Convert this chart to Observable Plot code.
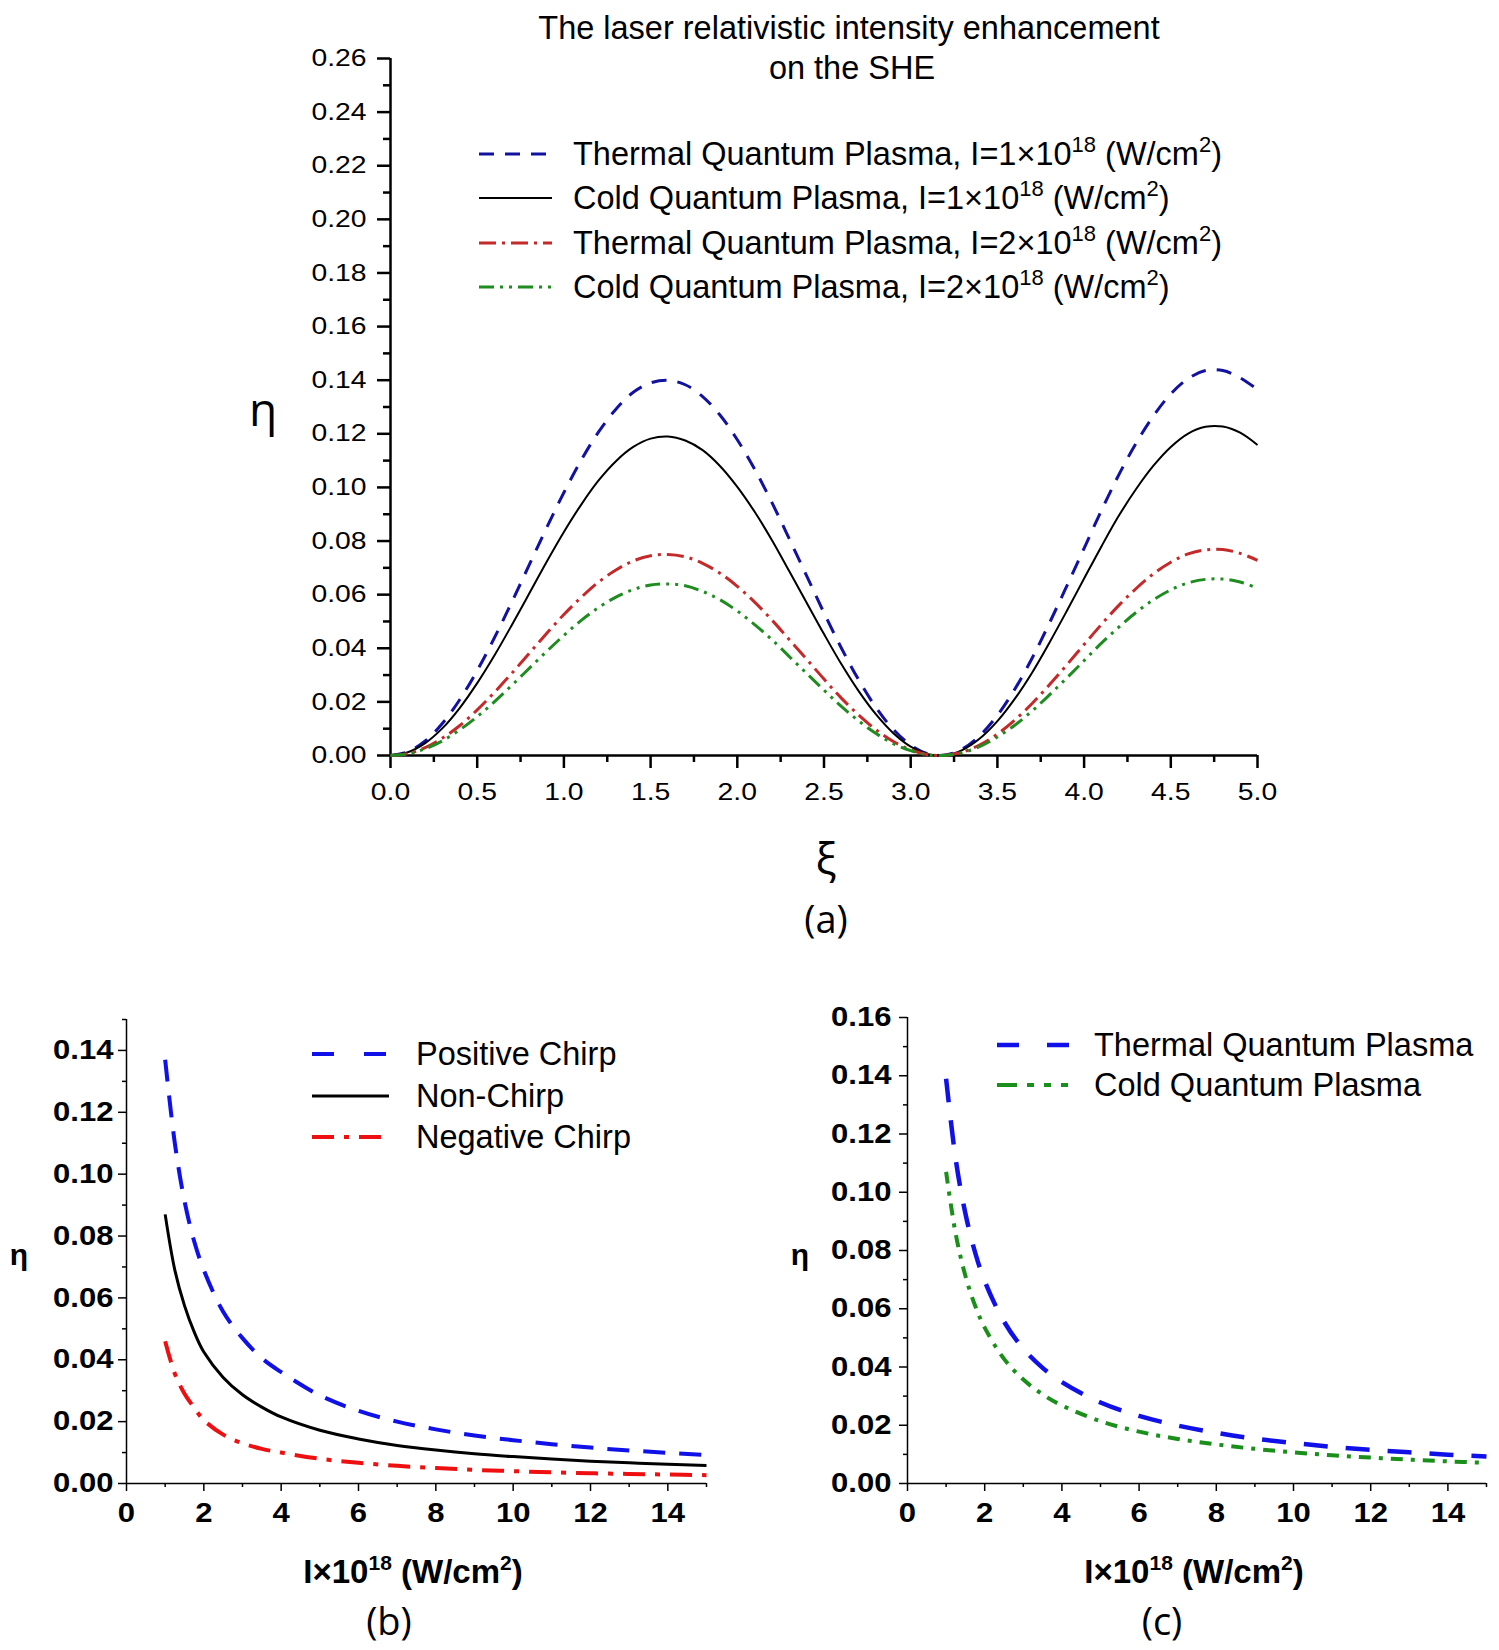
<!DOCTYPE html>
<html>
<head>
<meta charset="utf-8">
<script src="https://cdn.jsdelivr.net/npm/d3@7"></script>
<script src="https://cdn.jsdelivr.net/npm/@observablehq/plot@0.6"></script>
<style>
  body { margin: 0; background: #fff; color: #000; font-family: "Liberation Sans", Arial, sans-serif; }
  #page { position: relative; width: 1499px; height: 1650px; overflow: hidden; background: #fff; }
  #page > svg { position: absolute; }
  .txt { position: absolute; white-space: nowrap; line-height: 1; }
  .center { transform: translate(-50%, -50%); }
  .vmid { transform: translateY(-50%); }
  .sup { position: relative; }
  .greek { font-family: "Open Sans", "DejaVu Sans", sans-serif; }
  .tag { font-family: "Open Sans", "DejaVu Sans", sans-serif; font-size: 38px; }
</style>
</head>
<body>
<div id="page"></div>
<script>
// ---------- panel (a): η versus ξ ----------
const xi = [0.0, 0.1, 0.2, 0.3, 0.4, 0.5, 0.6, 0.7, 0.8, 0.9, 1.0, 1.1, 1.2, 1.3, 1.4, 1.5, 1.6, 1.7, 1.8, 1.9,
            2.0, 2.1, 2.2, 2.3, 2.4, 2.5, 2.6, 2.7, 2.8, 2.9, 3.0, 3.1, 3.2, 3.3, 3.4, 3.5, 3.6, 3.7, 3.8, 3.9,
            4.0, 4.1, 4.2, 4.3, 4.4, 4.5, 4.6, 4.7, 4.8, 4.9, 5.0];
const thermalI1 = [0, 0.0014, 0.0054, 0.0120, 0.0209, 0.0317, 0.0440, 0.0573, 0.0711, 0.0849, 0.0981, 0.1102, 0.1207, 0.1292, 0.1355, 0.1390, 0.1400, 0.1383, 0.1339, 0.1270,
                   0.1178, 0.1068, 0.0943, 0.0808, 0.0670, 0.0532, 0.0401, 0.0282, 0.0179, 0.0097, 0.0039, 0.0006, 0.0002, 0.0025, 0.0075, 0.0150, 0.0247, 0.0363, 0.0494, 0.0632,
                   0.0773, 0.0914, 0.1047, 0.1165, 0.1267, 0.1349, 0.1406, 0.1436, 0.1436, 0.1409, 0.1365];
const coldI1 = [0, 0.0012, 0.0046, 0.0102, 0.0178, 0.0270, 0.0374, 0.0487, 0.0604, 0.0722, 0.0834, 0.0936, 0.1026, 0.1098, 0.1151, 0.1182, 0.1190, 0.1175, 0.1139, 0.1080,
                0.1002, 0.0909, 0.0803, 0.0687, 0.0570, 0.0453, 0.0341, 0.0240, 0.0153, 0.0083, 0.0033, 0.0005, 0.0001, 0.0021, 0.0064, 0.0128, 0.0211, 0.0309, 0.0421, 0.0539,
                0.0660, 0.0780, 0.0894, 0.0994, 0.1081, 0.1151, 0.1201, 0.1226, 0.1227, 0.1204, 0.1158];
const thermalI2 = [0, 0.0007, 0.0029, 0.0065, 0.0112, 0.0170, 0.0236, 0.0307, 0.0381, 0.0455, 0.0526, 0.0590, 0.0647, 0.0692, 0.0726, 0.0745, 0.0750, 0.0741, 0.0717, 0.0680,
                   0.0631, 0.0572, 0.0505, 0.0432, 0.0359, 0.0285, 0.0214, 0.0151, 0.0096, 0.0052, 0.0021, 0.0003, 0.0001, 0.0013, 0.0040, 0.0080, 0.0132, 0.0194, 0.0264, 0.0338,
                   0.0414, 0.0489, 0.0560, 0.0623, 0.0678, 0.0721, 0.0752, 0.0767, 0.0768, 0.0754, 0.0728];
const coldI2 = [0, 0.0006, 0.0025, 0.0055, 0.0096, 0.0145, 0.0201, 0.0262, 0.0325, 0.0388, 0.0448, 0.0504, 0.0552, 0.0591, 0.0619, 0.0636, 0.0640, 0.0633, 0.0612, 0.0581,
                0.0539, 0.0488, 0.0432, 0.0369, 0.0306, 0.0244, 0.0183, 0.0129, 0.0082, 0.0044, 0.0018, 0.0003, 0.0001, 0.0011, 0.0034, 0.0069, 0.0113, 0.0166, 0.0226, 0.0289,
                0.0354, 0.0419, 0.0479, 0.0534, 0.0581, 0.0618, 0.0644, 0.0657, 0.0658, 0.0647, 0.0624];
const xiTicks = [0, 0.5, 1.0, 1.5, 2.0, 2.5, 3.0, 3.5, 4.0, 4.5, 5.0];
const etaTicksA = [0, 0.02, 0.04, 0.06, 0.08, 0.10, 0.12, 0.14, 0.16, 0.18, 0.20, 0.22, 0.24, 0.26];

// ---------- panels (b) and (c): η versus intensity ----------
const intensity = [1, 1.25, 1.5, 1.75, 2, 2.5, 3, 3.5, 4, 5, 6, 7, 8, 9, 10, 11, 12, 13, 14, 15];
const positiveChirp = [0.137, 0.110, 0.0913, 0.0783, 0.0690, 0.0555, 0.0470, 0.0405, 0.0360, 0.0285, 0.0235, 0.0200, 0.0175, 0.0155, 0.0140, 0.0127, 0.0116, 0.0107, 0.0099, 0.0092];
const nonChirp      = [0.087, 0.0690, 0.0575, 0.0490, 0.0425, 0.0343, 0.0287, 0.0247, 0.0215, 0.0172, 0.0144, 0.0123, 0.0108, 0.0096, 0.0087, 0.0079, 0.0072, 0.0067, 0.0062, 0.0058];
const negativeChirp = [0.046, 0.0355, 0.0290, 0.0245, 0.0205, 0.0158, 0.0130, 0.0112, 0.0100, 0.0080, 0.0067, 0.0057, 0.0050, 0.0044, 0.0040, 0.0036, 0.0033, 0.0031, 0.0029, 0.0027];
const thermalPlasma = [0.139, 0.1112, 0.0927, 0.0794, 0.0695, 0.0556, 0.0463, 0.0397, 0.0348, 0.0278, 0.0232, 0.0199, 0.0174, 0.0154, 0.0139, 0.0126, 0.0116, 0.0107, 0.0099, 0.0093];
const coldPlasma    = [0.107, 0.0856, 0.0713, 0.0611, 0.0535, 0.0428, 0.0357, 0.0306, 0.0268, 0.0214, 0.0178, 0.0153, 0.0134, 0.0119, 0.0107, 0.0097, 0.0089, 0.0082, 0.0076, 0.0071];
const intensityTicks = [0, 2, 4, 6, 8, 10, 12, 14];
const etaTicksB = [0, 0.02, 0.04, 0.06, 0.08, 0.10, 0.12, 0.14];
const etaTicksC = [0, 0.02, 0.04, 0.06, 0.08, 0.10, 0.12, 0.14, 0.16];

const seriesA = [
  {name: "Thermal Quantum Plasma", I: "1", values: thermalI1, stroke: "#12129e", width: 3, dash: "15,11"},
  {name: "Cold Quantum Plasma", I: "1", values: coldI1, stroke: "#000000", width: 2, dash: null},
  {name: "Thermal Quantum Plasma", I: "2", values: thermalI2, stroke: "#c42a2a", width: 3, dash: "17,6,3,6"},
  {name: "Cold Quantum Plasma", I: "2", values: coldI2, stroke: "#1f8c1f", width: 3, dash: "15,6,3,6,3,6"}
];
const seriesB = [
  {name: "Positive Chirp", values: positiveChirp, stroke: "#1010e8", width: 4, dash: "22,14", legendDash: "22,30"},
  {name: "Non-Chirp", values: nonChirp, stroke: "#000000", width: 3, dash: null},
  {name: "Negative Chirp", values: negativeChirp, stroke: "#ee1010", width: 4, dash: "22,10,5,10"}
];
const seriesC = [
  {name: "Thermal Quantum Plasma", values: thermalPlasma, stroke: "#1010e8", width: 4.5, dash: "24,18", legendDash: "22,28"},
  {name: "Cold Quantum Plasma", values: coldPlasma, stroke: "#1a8f1a", width: 4, dash: "12,8,4,8", legendDash: "20,10,7,10,7,10,7"}
];

const page = document.getElementById("page");

function range(a, b, step) {
  const out = [];
  for (let i = 0; a + i * step <= b + 1e-9; i++) out.push(+(a + i * step).toFixed(4));
  return out;
}

// widen tick labels horizontally, as in the figure's axis typography
function widenTicks(svg, factor) {
  svg.querySelectorAll('g[aria-label$="tick label"] text').forEach(t => {
    const L = t.getComputedTextLength();
    if (L > 0) {
      t.setAttribute("textLength", (L * factor).toFixed(2));
      t.setAttribute("lengthAdjust", "spacingAndGlyphs");
    }
  });
}

function panel(cfg) {
  const marks = [
    Plot.axisX({ticks: cfg.xMinor, tickSize: cfg.minor, tickFormat: () => "", strokeWidth: cfg.axisWidth}),
    Plot.axisX({ticks: cfg.xMajor, tickSize: cfg.major, tickPadding: cfg.xPad, tickFormat: cfg.xFmt, strokeWidth: cfg.axisWidth, label: null}),
    Plot.axisY({ticks: cfg.yMinor, tickSize: cfg.minor, tickFormat: () => "", strokeWidth: cfg.axisWidth}),
    Plot.axisY({ticks: cfg.yMajor, tickSize: cfg.major, tickPadding: cfg.yPad, tickFormat: d3.format(".2f"), strokeWidth: cfg.axisWidth, label: null}),
    Plot.ruleX([cfg.xDomain[0]], {strokeWidth: cfg.axisWidth}),
    Plot.ruleY([cfg.yDomain[0]], {strokeWidth: cfg.axisWidth})
  ];
  for (const s of cfg.series) {
    const rows = cfg.xs.map((x, i) => ({x, y: s.values[i]}));
    marks.push(Plot.line(rows, {
      x: "x", y: "y", stroke: s.stroke, strokeWidth: s.width,
      strokeDasharray: s.dash || undefined, strokeLinecap: "butt", curve: "catmull-rom"
    }));
  }
  const svg = Plot.plot({
    width: cfg.width, height: cfg.height,
    marginLeft: cfg.ml, marginRight: cfg.mr, marginTop: cfg.mt, marginBottom: cfg.mb,
    x: {domain: cfg.xDomain, label: null},
    y: {domain: cfg.yDomain, label: null},
    style: {fontFamily: '"Liberation Sans", Arial, sans-serif', fontSize: cfg.fontSize + "px",
            fontWeight: cfg.fontWeight, background: "transparent", color: "#000", overflow: "visible"},
    marks
  });
  svg.style.left = cfg.left + "px";
  svg.style.top = cfg.top + "px";
  page.appendChild(svg);
  widenTicks(svg, cfg.widen);
  return svg;
}

function addText(html, x, y, cls, style) {
  const d = document.createElement("div");
  d.className = "txt " + (cls || "");
  d.innerHTML = html;
  d.style.left = x + "px";
  d.style.top = y + "px";
  Object.assign(d.style, style || {});
  page.appendChild(d);
  return d;
}

function addLegend(items, x1, x2, textX, rows, fontSize, labelFn) {
  items.forEach((s, i) => {
    const y = rows[i];
    const w = x2 - x1;
    const sv = d3.create("svg").attr("width", w).attr("height", 14)
      .style("position", "absolute").style("left", x1 + "px").style("top", (y - 7) + "px");
    sv.append("line").attr("x1", 0).attr("x2", w).attr("y1", 7).attr("y2", 7)
      .attr("stroke", s.stroke).attr("stroke-width", s.width)
      .attr("stroke-dasharray", s.legendDash || s.dash || null);
    page.appendChild(sv.node());
    addText(labelFn(s), textX, y, "vmid", {fontSize: fontSize + "px"});
  });
}

const sup = (t, size, rise) => `<span class="sup" style="font-size:${size}px;top:-${rise}px">${t}</span>`;

// ---------- draw panel (a) ----------
panel({
  left: 0, top: 0, width: 1300, height: 810, ml: 390, mr: 43, mt: 58, mb: 55,
  xDomain: [0, 5], yDomain: [0, 0.26], xs: xi, series: seriesA,
  xMajor: xiTicks, xMinor: range(0.25, 4.75, 0.5), yMajor: etaTicksA, yMinor: range(0.01, 0.25, 0.02),
  xFmt: d3.format(".1f"), major: 13, minor: 7, xPad: 14, yPad: 11,
  fontSize: 24, fontWeight: "normal", axisWidth: 2.5, widen: 1.18
});

addText("The laser relativistic intensity enhancement", 849, 28, "center", {fontSize: "32.5px"});
addText("on the SHE", 852, 68, "center", {fontSize: "32.5px"});
addLegend(seriesA, 479, 552, 573, [154, 198, 243, 287], 32.5,
  s => `${s.name}, I=${s.I}×10${sup("18", 22, 13)} (W/cm${sup("2", 22, 13)})`);
addText("η", 263, 408, "center greek", {fontSize: "46px"});
addText("ξ", 826, 857, "center greek", {fontSize: "44px"});
addText("(a)", 826, 918, "center tag");

// ---------- draw panel (b) ----------
panel({
  left: 0, top: 990, width: 740, height: 560, ml: 126, mr: 34, mt: 29, mb: 67,
  xDomain: [0, 15], yDomain: [0, 0.15], xs: intensity, series: seriesB,
  xMajor: intensityTicks, xMinor: range(1, 15, 2), yMajor: etaTicksB, yMinor: range(0.01, 0.15, 0.02),
  xFmt: d3.format("d"), major: 8, minor: 4, xPad: 11, yPad: 5,
  fontSize: 27, fontWeight: "bold", axisWidth: 1.5, widen: 1.15
});
addLegend(seriesB, 312, 389, 416, [1054, 1096, 1137], 32.5, s => s.name);
addText("η", 19, 1255, "center", {fontSize: "30px", fontWeight: "bold"});
addText(`I×10${sup("18", 21, 13)} (W/cm${sup("2", 21, 13)})`, 413, 1571, "center", {fontSize: "33px", fontWeight: "bold"});
addText("(b)", 389, 1620, "center tag");

// ---------- draw panel (c) ----------
panel({
  left: 760, top: 990, width: 739, height: 560, ml: 147, mr: 13, mt: 27, mb: 67,
  xDomain: [0, 15], yDomain: [0, 0.16], xs: intensity, series: seriesC,
  xMajor: intensityTicks, xMinor: range(1, 15, 2), yMajor: etaTicksC, yMinor: range(0.01, 0.15, 0.02),
  xFmt: d3.format("d"), major: 8, minor: 4, xPad: 11, yPad: 8,
  fontSize: 27, fontWeight: "bold", axisWidth: 1.5, widen: 1.15
});
addLegend(seriesC, 997, 1076, 1094, [1045, 1085], 32.5, s => s.name);
addText("η", 800, 1255, "center", {fontSize: "30px", fontWeight: "bold"});
addText(`I×10${sup("18", 21, 13)} (W/cm${sup("2", 21, 13)})`, 1194, 1571, "center", {fontSize: "33px", fontWeight: "bold"});
addText("(c)", 1162, 1620, "center tag");
</script>
</body>
</html>
